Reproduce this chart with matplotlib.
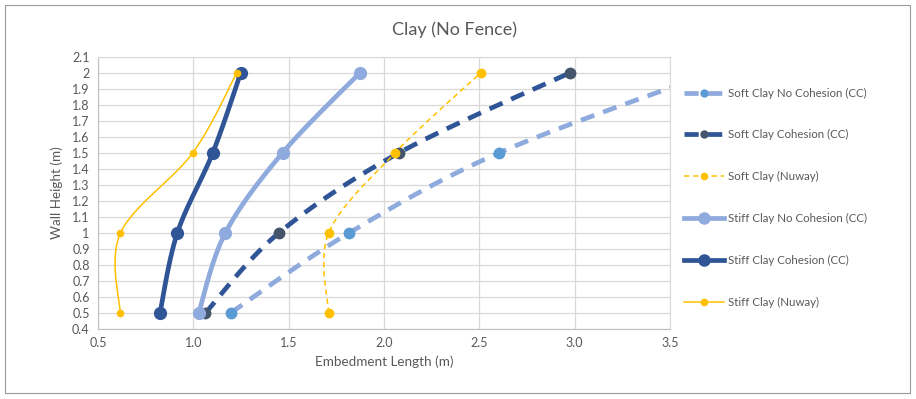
import numpy as np
import matplotlib
matplotlib.use("Agg")
import matplotlib.pyplot as plt
from matplotlib.lines import Line2D
from matplotlib.patches import Rectangle

plt.rcParams['font.family'] = ['Lato', 'DejaVu Sans']

wall_height = [0.5, 1.0, 1.5, 2.0]
soft_nc_cc = [1.195, 1.817, 2.604, 3.72]
soft_c_cc = [1.063, 1.449, 2.079, 2.976]
soft_nuway = [1.709, 1.71, 2.058, 2.508]
stiff_nc_cc = [1.028, 1.168, 1.468, 1.874]
stiff_c_cc = [0.825, 0.916, 1.102, 1.249]
stiff_nuway = [0.616, 0.618, 0.997, 1.228]

labels = ["Soft Clay No Cohesion (CC)", "Soft Clay Cohesion (CC)", "Soft Clay (Nuway)",
          "Stiff Clay No Cohesion (CC)", "Stiff Clay Cohesion (CC)", "Stiff Clay (Nuway)"]

LB, LBM = "#8FAADC", "#5B9BD5"
DB, DBM = "#2F5597", "#44546A"
YL = "#FFC000"

fig = plt.figure(figsize=(9.16, 3.99), dpi=100)
fig.patches.append(Rectangle((5/916, 6/399), 905/916, 388/399, transform=fig.transFigure,
                             fill=False, edgecolor="#9A9A9A", linewidth=0.8))
ax = fig.add_axes([98/916, 1-329/399, 572/916, 272.3/399])
ax.set_xlim(0.5, 3.5)
ax.set_ylim(0.4, 2.1)
xt = np.arange(0.5, 3.51, 0.5)
yt = np.round(np.arange(0.4, 2.101, 0.1), 1)
ax.set_xticks(xt)
ax.set_yticks(yt)
ax.set_xticklabels([f"{v:.1f}" for v in xt])
ax.set_yticklabels(["1" if v == 1 else ("2" if v == 2 else f"{v:.1f}") for v in yt])
ax.grid(True, color="#D9D9D9", linewidth=0.9)
ax.set_axisbelow(True)
for s in ax.spines.values():
    s.set_color("#D9D9D9")
ax.spines['bottom'].set_color("#BFBFBF")
ax.spines['left'].set_color("#BFBFBF")
ax.tick_params(length=0, labelsize=9, colors="#595959", pad=6)

sx = 572 / 3.0
sy = 272.3 / 1.7


def smooth(xs, ys, n=40):
    P = np.column_stack([np.array(xs) * sx, np.array(ys) * sy])
    m = len(P)
    out = []
    for i in range(m - 1):
        p0 = P[i - 1] if i > 0 else P[i]
        p1, p2 = P[i], P[i + 1]
        p3 = P[i + 2] if i + 2 < m else P[i + 1]
        c1 = p1 + (p2 - p0) / 6
        c2 = p2 - (p3 - p1) / 6
        t = np.linspace(0, 1, n)[:, None]
        seg = (1-t)**3*p1 + 3*(1-t)**2*t*c1 + 3*(1-t)*t**2*c2 + t**3*p2
        out.append(seg if i == 0 else seg[1:])
    pts = np.vstack(out)
    return pts[:, 0] / sx, pts[:, 1] / sy


series = [
    (soft_nc_cc, LB, LBM, 3.4, (3, 2), 7.5, 5),
    (soft_c_cc, DB, DBM, 3.4, (3, 2), 7.5, 5),
    (soft_nuway, YL, YL, 1.1, (3.5, 2.5), 6, 4.5),
    (stiff_nc_cc, LB, LB, 3.4, None, 8.5, 8),
    (stiff_c_cc, DB, DB, 3.4, None, 8.5, 8),
    (stiff_nuway, YL, YL, 1.1, None, 4.5, 4.5),
]

handles = []
for (xs, lc, mc, lw, dash, ms, lms), lab in zip(series, labels):
    cx, cy = smooth(xs, wall_height)
    ln, = ax.plot(cx, cy, color=lc, linewidth=lw, zorder=2)
    if dash:
        ln.set_dashes(dash)
    ax.plot(xs, wall_height, linestyle='none', marker='o', markersize=ms,
            color=mc, markeredgecolor=mc, zorder=3)
    h = Line2D([], [], color=lc, linewidth=lw, marker='o', markersize=lms,
               markerfacecolor=mc, markeredgecolor=mc)
    if dash:
        h.set_dashes(dash)
    handles.append(h)

fig.legend(handles, labels, loc='upper left', bbox_to_anchor=(684/916, 1-87.5/399),
           frameon=False, fontsize=8.3, handlelength=3.5, handletextpad=0.3,
           labelspacing=2.67, borderpad=0, borderaxespad=0, labelcolor="#595959")

fig.text(455/916, 1-30/399, "Clay (No Fence)", ha='center', va='center', fontsize=13, color="#595959")
fig.text(384/916, 1-362/399, "Embedment Length (m)", ha='center', va='center', fontsize=9.7, color="#595959")
fig.text(57/916, 1-193/399, "Wall Height (m)", ha='center', va='center', rotation=90, fontsize=9.7, color="#595959")

fig.savefig("out.png", dpi=100)
